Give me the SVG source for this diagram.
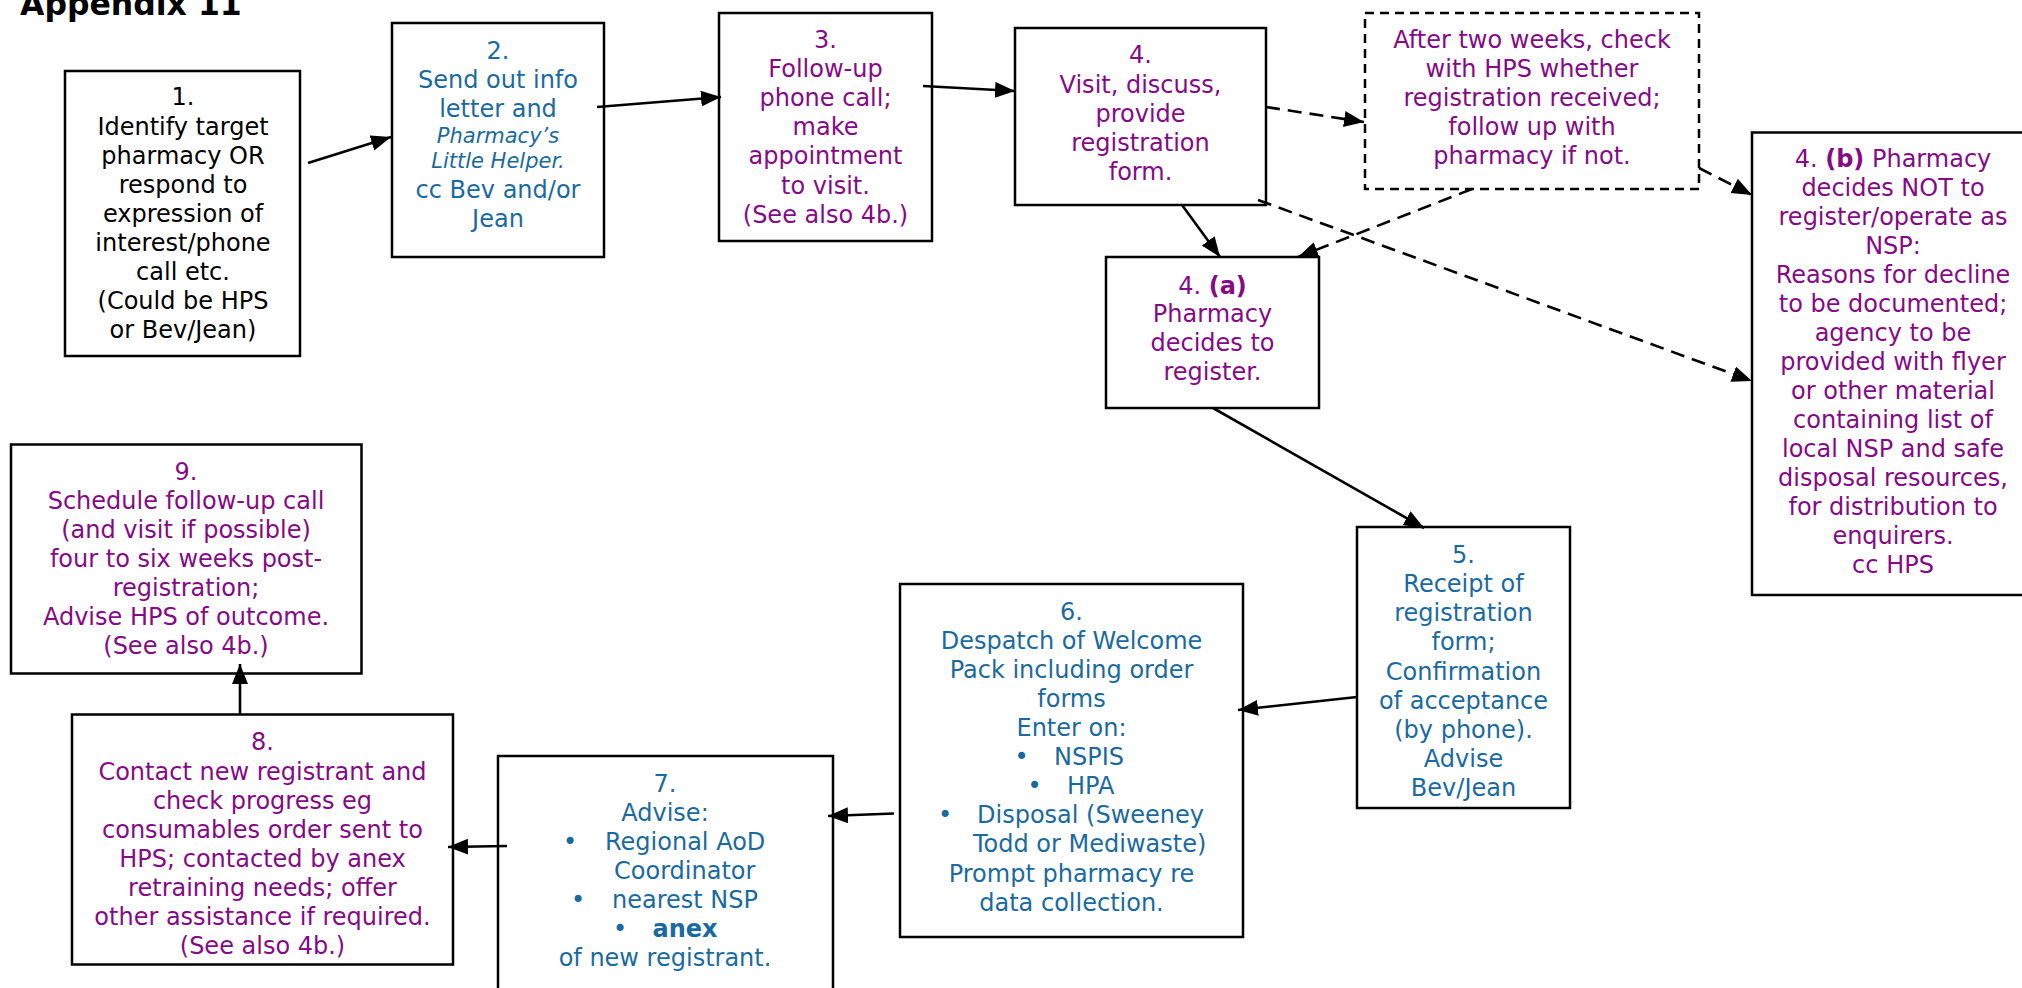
<svg xmlns="http://www.w3.org/2000/svg" width="2022" height="988" viewBox="0 0 2022 988">
<defs>
<style>
.box{fill:#fff;stroke:#000;stroke-width:2.5}
.dbox{fill:#fff;stroke:#000;stroke-width:2.5;stroke-dasharray:9 6}
.t{font-family:"DejaVu Sans","Liberation Sans",sans-serif;font-size:24px;text-anchor:middle}
.s{text-anchor:start}
.p{fill:#850a86}
.b{fill:#1a6aa0}
.k{fill:#000}
.it{font-style:italic;font-size:21px}
.bd{font-weight:bold}
.ln{stroke:#000;stroke-width:2.6;fill:none}
.dl{stroke:#000;stroke-width:2.6;fill:none;stroke-dasharray:14 8}
</style>
<marker id="ah" markerUnits="userSpaceOnUse" markerWidth="22" markerHeight="18" refX="20" refY="8" orient="auto">
<path d="M0,0 L20,8 L0,16 z" fill="#000"/>
</marker>
</defs>
<rect width="2022" height="988" fill="#fff"/>
<text x="20" y="15" style="font-family:'DejaVu Sans','Liberation Sans',sans-serif;font-size:31.5px;font-weight:bold" fill="#000">Appendix 11</text>

<g id="n1">
<rect class="box" x="65" y="71" width="235" height="285"/>
<text class="t k"><tspan x="183" y="104.5">1.</tspan><tspan x="183" y="135">Identify target</tspan><tspan x="183" y="164">pharmacy OR</tspan><tspan x="183" y="193">respond to</tspan><tspan x="183" y="222">expression of</tspan><tspan x="183" y="251">interest/phone</tspan><tspan x="183" y="280">call etc.</tspan><tspan x="183" y="309">(Could be HPS</tspan><tspan x="183" y="338">or Bev/Jean)</tspan></text>
</g>

<g id="n2">
<rect class="box" x="392" y="23" width="212" height="234"/>
<text class="t b"><tspan x="498" y="58.5">2.</tspan><tspan x="498" y="87.5">Send out info</tspan><tspan x="498" y="116.5">letter and</tspan><tspan x="498" y="143" class="it">Pharmacy’s</tspan><tspan x="498" y="168" class="it">Little Helper.</tspan><tspan x="498" y="198">cc Bev and/or</tspan><tspan x="498" y="227">Jean</tspan></text>
</g>

<g id="n3">
<rect class="box" x="719" y="13" width="213" height="228"/>
<text class="t p"><tspan x="825.5" y="48">3.</tspan><tspan x="825.5" y="77">Follow-up</tspan><tspan x="825.5" y="106">phone call;</tspan><tspan x="825.5" y="135">make</tspan><tspan x="825.5" y="164">appointment</tspan><tspan x="825.5" y="193.5">to visit.</tspan><tspan x="825.5" y="222.5">(See also 4b.)</tspan></text>
</g>

<g id="n4">
<rect class="box" x="1015" y="28" width="251" height="177"/>
<text class="t p"><tspan x="1140.5" y="63">4.</tspan><tspan x="1140.5" y="92.5">Visit, discuss,</tspan><tspan x="1140.5" y="121.5">provide</tspan><tspan x="1140.5" y="150.5">registration</tspan><tspan x="1140.5" y="179.5">form.</tspan></text>
</g>

<g id="n_check">
<rect class="dbox" x="1365" y="13" width="334" height="176"/>
<text class="t p"><tspan x="1532" y="47.5">After two weeks, check</tspan><tspan x="1532" y="76.5">with HPS whether</tspan><tspan x="1532" y="105.5">registration received;</tspan><tspan x="1532" y="134.5">follow up with</tspan><tspan x="1532" y="163.5">pharmacy if not.</tspan></text>
</g>

<g id="n4a">
<rect class="box" x="1106" y="257" width="213" height="151"/>
<text class="t p"><tspan x="1212.5" y="293.5">4. <tspan class="bd">(a)</tspan></tspan><tspan x="1212.5" y="322">Pharmacy</tspan><tspan x="1212.5" y="350.5">decides to</tspan><tspan x="1212.5" y="379.5">register.</tspan></text>
</g>

<g id="n4b">
<rect class="box" x="1752" y="132.5" width="290" height="462.5"/>
<text class="t p"><tspan x="1893" y="167">4. <tspan class="bd">(b)</tspan> Pharmacy</tspan><tspan x="1893" y="196">decides NOT to</tspan><tspan x="1893" y="225">register/operate as</tspan><tspan x="1893" y="254">NSP:</tspan><tspan x="1893" y="283">Reasons for decline</tspan><tspan x="1893" y="312">to be documented;</tspan><tspan x="1893" y="341">agency to be</tspan><tspan x="1893" y="370">provided with flyer</tspan><tspan x="1893" y="399">or other material</tspan><tspan x="1893" y="428">containing list of</tspan><tspan x="1893" y="457">local NSP and safe</tspan><tspan x="1893" y="486">disposal resources,</tspan><tspan x="1893" y="515">for distribution to</tspan><tspan x="1893" y="544">enquirers.</tspan><tspan x="1893" y="573">cc HPS</tspan></text>
</g>

<g id="n5">
<rect class="box" x="1357" y="527" width="213" height="281"/>
<text class="t b"><tspan x="1463.5" y="563">5.</tspan><tspan x="1463.5" y="592">Receipt of</tspan><tspan x="1463.5" y="621">registration</tspan><tspan x="1463.5" y="650">form;</tspan><tspan x="1463.5" y="679.5">Confirmation</tspan><tspan x="1463.5" y="708.5">of acceptance</tspan><tspan x="1463.5" y="737.5">(by phone).</tspan><tspan x="1463.5" y="767">Advise</tspan><tspan x="1463.5" y="796">Bev/Jean</tspan></text>
</g>

<g id="n6">
<rect class="box" x="900" y="584" width="343" height="353"/>
<text class="t b"><tspan x="1071.5" y="620">6.</tspan><tspan x="1071.5" y="649">Despatch of Welcome</tspan><tspan x="1071.5" y="678">Pack including order</tspan><tspan x="1071.5" y="707">forms</tspan><tspan x="1071.5" y="736">Enter on:</tspan></text>
<text class="t s b"><tspan x="1014.5" y="765">•</tspan><tspan x="1054" y="765">NSPIS</tspan><tspan x="1027.5" y="794">•</tspan><tspan x="1067" y="794">HPA</tspan><tspan x="938" y="823">•</tspan><tspan x="977" y="823">Disposal (Sweeney</tspan><tspan x="973" y="852">Todd or Mediwaste)</tspan></text>
<text class="t b"><tspan x="1071.5" y="882">Prompt pharmacy re</tspan><tspan x="1071.5" y="911">data collection.</tspan></text>
</g>

<g id="n7">
<rect class="box" x="498" y="756" width="335" height="250"/>
<text class="t b"><tspan x="665" y="792">7.</tspan><tspan x="665" y="821">Advise:</tspan></text>
<text class="t s b"><tspan x="563" y="850">•</tspan><tspan x="605" y="850">Regional AoD</tspan><tspan x="614" y="879">Coordinator</tspan><tspan x="571" y="907.5">•</tspan><tspan x="612" y="907.5">nearest NSP</tspan><tspan x="613" y="936.5">•</tspan><tspan x="652.5" y="936.5" class="bd">anex</tspan></text>
<text class="t b"><tspan x="665" y="965.5">of new registrant.</tspan></text>
</g>

<g id="n8">
<rect class="box" x="72" y="714.5" width="381" height="250"/>
<text class="t p"><tspan x="262.5" y="750">8.</tspan><tspan x="262.5" y="779.5">Contact new registrant and</tspan><tspan x="262.5" y="808.5">check progress eg</tspan><tspan x="262.5" y="837.5">consumables order sent to</tspan><tspan x="262.5" y="866.5">HPS; contacted by anex</tspan><tspan x="262.5" y="895.5">retraining needs; offer</tspan><tspan x="262.5" y="924.5">other assistance if required.</tspan><tspan x="262.5" y="953.5">(See also 4b.)</tspan></text>
</g>

<g id="n9">
<rect class="box" x="11" y="444.5" width="350.5" height="229"/>
<text class="t p"><tspan x="186" y="480">9.</tspan><tspan x="186" y="509">Schedule follow-up call</tspan><tspan x="186" y="538">(and visit if possible)</tspan><tspan x="186" y="567">four to six weeks post-</tspan><tspan x="186" y="596">registration;</tspan><tspan x="186" y="625">Advise HPS of outcome.</tspan><tspan x="186" y="654">(See also 4b.)</tspan></text>
</g>

<g id="connectors">
<line class="ln" x1="308" y1="163" x2="391" y2="137" marker-end="url(#ah)"/>
<line class="ln" x1="597" y1="107" x2="721" y2="97" marker-end="url(#ah)"/>
<line class="ln" x1="923" y1="86" x2="1015" y2="91" marker-end="url(#ah)"/>
<line class="dl" x1="1266" y1="107" x2="1364" y2="122" marker-end="url(#ah)"/>
<line class="ln" x1="1182" y1="205" x2="1220" y2="257" marker-end="url(#ah)"/>
<line class="dl" x1="1472" y1="189" x2="1298" y2="257" marker-end="url(#ah)"/>
<line class="dl" x1="1258" y1="200" x2="1752" y2="381" marker-end="url(#ah)"/>
<line class="dl" x1="1699" y1="168" x2="1752" y2="195" marker-end="url(#ah)"/>
<line class="ln" x1="1213" y1="408" x2="1424" y2="528" marker-end="url(#ah)"/>
<line class="ln" x1="1357" y1="697" x2="1238" y2="710" marker-end="url(#ah)"/>
<line class="ln" x1="894" y1="813.5" x2="828" y2="816" marker-end="url(#ah)"/>
<line class="ln" x1="507" y1="846" x2="448" y2="847" marker-end="url(#ah)"/>
<line class="ln" x1="240" y1="714.5" x2="240" y2="664" marker-end="url(#ah)"/>
</g>
</svg>
